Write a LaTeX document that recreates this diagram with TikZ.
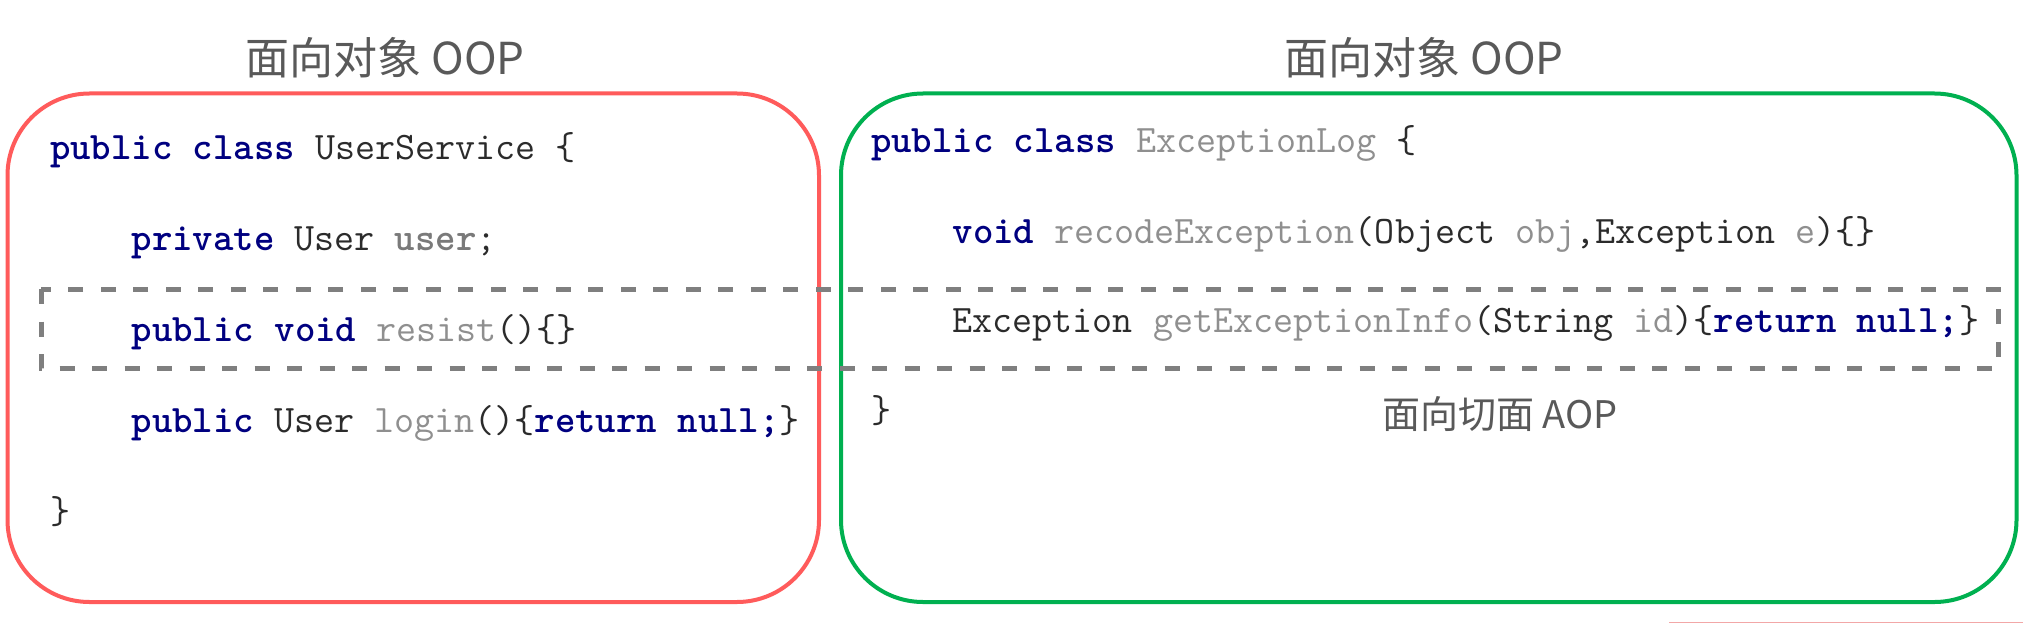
\documentclass[tikz,border=0pt]{standalone}
\usepackage{fontspec}
\newfontfamily\cjkfam{Noto Sans CJK SC}
\definecolor{kwnavy}{HTML}{000080}
\definecolor{idgray}{HTML}{8F8F8F}
\definecolor{fldgray}{HTML}{7A7A7A}
\definecolor{codedark}{HTML}{2B2B2B}
\definecolor{titlegray}{HTML}{595959}
\definecolor{boxred}{HTML}{FF5B5B}
\definecolor{boxgreen}{HTML}{00B050}
\definecolor{dashgray}{HTML}{7F7F7F}
\definecolor{pinkline}{HTML}{F2A7A7}
\newcommand\codefnt{\ttfamily\fontsize{38.9}{40}\selectfont}
\newcommand\titlefnt{\cjkfam\fontsize{44}{48}\selectfont}
\newcommand\aopfnt{\cjkfam\fontsize{38}{42}\selectfont}
\newcommand\kwN[1]{{\bfseries\color{kwnavy}#1}}
\newcommand\idG[1]{{\color{idgray}#1}}
\newcommand\fldG[1]{{\bfseries\color{fldgray}#1}}
\begin{document}
\begin{tikzpicture}[x=1pt,y=-1pt,
  code/.style={anchor=base west, inner sep=0pt, outer sep=0pt, font=\codefnt, text=codedark},
  heading/.style={anchor=base, inner sep=0pt, outer sep=0pt, text=titlegray},
  classbox/.style={line width=4pt, rounded corners=82pt},
  aspectbox/.style={draw=dashgray, line width=5pt, dash pattern=on 15pt off 17.5pt}]
\useasboundingbox[fill=white] (0,0) rectangle (2023,623);
% titles
\node[heading, font=\titlefnt] (t1) at (385,75) {面向对象 OOP};
\node[heading, font=\titlefnt] (t2) at (1424,75) {面向对象 OOP};
% boxes
\draw[classbox, draw=boxred] (7.5,93.5) rectangle (819,602);
\draw[classbox, draw=boxgreen] (841,93.5) rectangle (2016.5,602);
% left code
\node[code] (l1) at (50,159) {\kwN{public class} UserService \{};
\node[code] (l2) at (131.7,250) {\kwN{private} User \fldG{user};};
\node[code] (l3) at (131.7,341) {\kwN{public void} \idG{resist}()\{\}};
\node[code] (l4) at (131.7,432) {\kwN{public} User \idG{login}()\{\kwN{return null;}\}};
\node[code] (l5) at (50,523) {\}};
% right code
\node[code] (r1) at (871,153) {\kwN{public class} \idG{ExceptionLog} \{};
\node[code] (r2) at (952.7,243) {\kwN{void} \idG{recodeException}(Object \idG{obj},Exception \idG{e})\{\}};
\node[code] (r3) at (952.7,332) {Exception \idG{getExceptionInfo}(String \idG{id})\{\kwN{return null;}\}};
\node[code] (r4) at (871,422) {\}};
% aspect
\draw[aspectbox] (41,289) rectangle (1998,368);
\node[heading, font=\aopfnt] (aop) at (1500,428) {面向切面 AOP};
% stray line at bottom edge
\coordinate (p1) at (1669,622.3);
\coordinate (p2) at (2023,622.3);
\draw[pinkline, line width=1.5pt] (p1) -- (p2);
\end{tikzpicture}
\end{document}
